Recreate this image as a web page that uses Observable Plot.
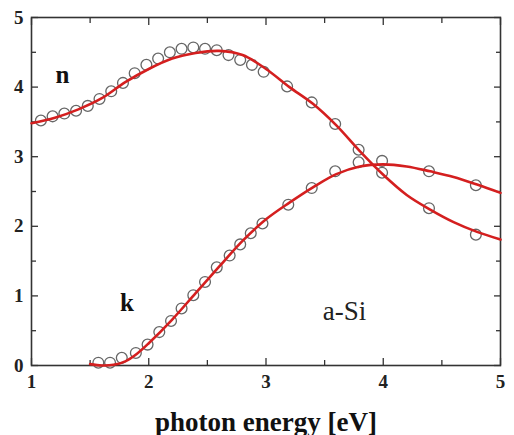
<!DOCTYPE html>
<html>
<head>
<meta charset="utf-8">
<script src="https://cdn.jsdelivr.net/npm/d3@7"></script>
<script src="https://cdn.jsdelivr.net/npm/@observablehq/plot@0.6"></script>
<style>
  html, body { margin: 0; padding: 0; background: #fff; }
  #chart svg { display: block; }
  #chart svg, #chart svg text { font-family: "Liberation Serif", "Times New Roman", serif !important; }
</style>
</head>
<body>
<div id="chart"></div>
<script>
// measured refractive index n (circles)
const nEnergy = [1.08, 1.18, 1.28, 1.38, 1.48, 1.58, 1.68, 1.78, 1.88, 1.98, 2.08, 2.18, 2.28, 2.38, 2.48, 2.58, 2.68, 2.78, 2.88, 2.98, 3.18, 3.39, 3.59, 3.79, 3.99, 4.39, 4.79];
const nValues = [3.52, 3.58, 3.62, 3.66, 3.73, 3.83, 3.94, 4.06, 4.20, 4.32, 4.41, 4.50, 4.55, 4.57, 4.55, 4.53, 4.46, 4.39, 4.32, 4.22, 4.01, 3.78, 3.47, 3.10, 2.77, 2.26, 1.88];
// measured extinction coefficient k (circles)
const kEnergy = [1.57, 1.67, 1.77, 1.89, 1.99, 2.09, 2.19, 2.28, 2.38, 2.48, 2.58, 2.69, 2.78, 2.87, 2.97, 3.19, 3.39, 3.59, 3.79, 3.99, 4.39, 4.79];
const kValues = [0.04, 0.04, 0.11, 0.18, 0.30, 0.48, 0.64, 0.82, 1.01, 1.20, 1.41, 1.58, 1.74, 1.90, 2.04, 2.31, 2.55, 2.79, 2.92, 2.94, 2.79, 2.59];
// model fit curves (red)
const nFitEnergy = [1.0, 1.2, 1.4, 1.6, 1.8, 2.0, 2.2, 2.4, 2.6, 2.8, 3.0, 3.2, 3.4, 3.6, 3.8, 4.0, 4.2, 4.4, 4.6, 4.8, 5.0];
const nFitValues = [3.48, 3.56, 3.68, 3.84, 4.07, 4.26, 4.41, 4.49, 4.52, 4.46, 4.26, 4.00, 3.76, 3.45, 3.08, 2.74, 2.45, 2.24, 2.06, 1.92, 1.81];
const kFitEnergy = [1.5, 1.6, 1.7, 1.8, 1.9, 2.0, 2.2, 2.4, 2.6, 2.8, 3.0, 3.2, 3.4, 3.6, 3.8, 4.0, 4.2, 4.4, 4.6, 4.8, 5.0];
const kFitValues = [0.02, 0.0, 0.01, 0.06, 0.17, 0.32, 0.66, 1.04, 1.42, 1.79, 2.10, 2.34, 2.56, 2.75, 2.86, 2.89, 2.86, 2.79, 2.71, 2.60, 2.48];
// ticks
const xMajor = [1, 2, 3, 4, 5];
const xMinor = [1.5, 2.5, 3.5, 4.5];
const yMajor = [0, 1, 2, 3, 4, 5];
const yMinor = [0.5, 1.5, 2.5, 3.5, 4.5];
// annotations
const labels = [
  {x: 1.265, y: 4.17, text: "n", weight: "bold"},
  {x: 1.815, y: 0.9, text: "k", weight: "bold"},
  {x: 3.67, y: 0.78, text: "a-Si", weight: "normal"}
];
const xLabel = "photon energy [eV]";

const nPts = nEnergy.map((e, i) => ({e, v: nValues[i]}));
const kPts = kEnergy.map((e, i) => ({e, v: kValues[i]}));
const nFit = nFitEnergy.map((e, i) => ({e, v: nFitValues[i]}));
const kFit = kFitEnergy.map((e, i) => ({e, v: kFitValues[i]}));

const serif = "Liberation Serif, Times New Roman, serif";
const axisColor = "#333";
const tickOnly = () => "";

const chart = Plot.plot({
  width: 514,
  height: 435,
  marginLeft: 31,
  marginRight: 14,
  marginTop: 17,
  marginBottom: 70,
  style: {fontFamily: serif, color: "#222", background: "#fff"},
  x: {domain: [1, 5]},
  y: {domain: [0, 5]},
  marks: [
    // tick labels
    Plot.axisX({anchor: "bottom", ticks: xMajor, tickSize: 0, tickPadding: 9, fontSize: 19, fontWeight: "bold", fontFamily: serif, fill: "#222", tickFormat: d3.format("d"), label: null}),
    Plot.axisY({anchor: "left", ticks: yMajor, tickSize: 0, tickPadding: 8, fontSize: 19, fontWeight: "bold", fontFamily: serif, fill: "#222", tickFormat: d3.format("d"), label: null}),
    // inward ticks on all four sides
    Plot.axisX({anchor: "bottom", ticks: xMajor, tickSize: -7, tickFormat: tickOnly, label: null, stroke: axisColor, strokeWidth: 1.3}),
    Plot.axisX({anchor: "bottom", ticks: xMinor, tickSize: -5, tickFormat: tickOnly, label: null, stroke: axisColor, strokeWidth: 1.3}),
    Plot.axisX({anchor: "top", ticks: xMajor, tickSize: -7, tickFormat: tickOnly, label: null, stroke: axisColor, strokeWidth: 1.3}),
    Plot.axisX({anchor: "top", ticks: xMinor, tickSize: -5, tickFormat: tickOnly, label: null, stroke: axisColor, strokeWidth: 1.3}),
    Plot.axisY({anchor: "left", ticks: yMajor, tickSize: -7, tickFormat: tickOnly, label: null, stroke: axisColor, strokeWidth: 1.3}),
    Plot.axisY({anchor: "left", ticks: yMinor, tickSize: -5, tickFormat: tickOnly, label: null, stroke: axisColor, strokeWidth: 1.3}),
    Plot.axisY({anchor: "right", ticks: yMajor, tickSize: -7, tickFormat: tickOnly, label: null, stroke: axisColor, strokeWidth: 1.3}),
    Plot.axisY({anchor: "right", ticks: yMinor, tickSize: -5, tickFormat: tickOnly, label: null, stroke: axisColor, strokeWidth: 1.3}),
    Plot.frame({stroke: axisColor, strokeWidth: 1.6}),
    // data circles
    Plot.dot(nPts, {x: "e", y: "v", r: 5.4, stroke: "#666", strokeWidth: 1.3, fill: "none"}),
    Plot.dot(kPts, {x: "e", y: "v", r: 5.4, stroke: "#666", strokeWidth: 1.3, fill: "none"}),
    // fits
    Plot.line(nFit, {x: "e", y: "v", curve: "catmull-rom", stroke: "#d41f1f", strokeWidth: 2.6}),
    Plot.line(kFit, {x: "e", y: "v", curve: "catmull-rom", stroke: "#d41f1f", strokeWidth: 2.6}),
    // annotations
    Plot.text(labels.filter(d => d.weight === "bold"), {x: "x", y: "y", text: "text", fontSize: 25, fontWeight: "bold", fontFamily: serif, fill: "#111"}),
    Plot.text(labels.filter(d => d.weight !== "bold"), {x: "x", y: "y", text: "text", fontSize: 27, fontFamily: serif, fill: "#222"}),
    // x axis title
    Plot.text([xLabel], {frameAnchor: "bottom", text: d => d, dy: 65, lineAnchor: "bottom", fontSize: 27, fontWeight: "bold", fontFamily: serif, fill: "#111"})
  ]
});
document.getElementById("chart").appendChild(chart);
</script>
</body>
</html>
